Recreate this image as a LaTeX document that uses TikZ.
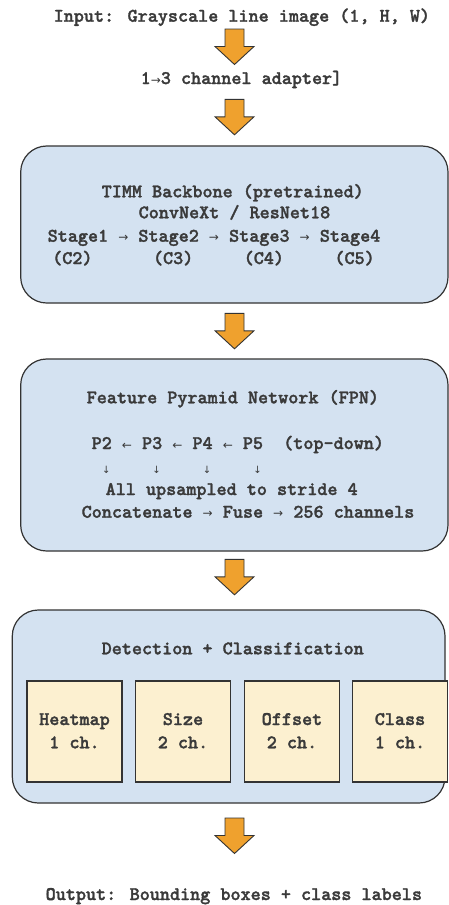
\documentclass[tikz,border=0pt]{standalone}
\usepackage{fontspec}
\newfontfamily\arrowfont{DejaVu Sans}
\newfontfamily\codefont{lmmonolt10-bold}[Extension=.otf, FakeBold=1.6]
\definecolor{panelblue}{HTML}{D4E2F1}
\definecolor{headfill}{HTML}{FCF0D0}
\definecolor{arrowfill}{HTML}{EFA12E}
\definecolor{ink}{HTML}{3A3A3A}
\definecolor{edgegray}{HTML}{333333}
% thin arrow glyphs, each one character cell wide
\newcommand\rarr{\makebox[10.08pt]{\arrowfont\fontsize{12}{14}\selectfont →}}
\newcommand\larr{\makebox[10.08pt]{\arrowfont\fontsize{12}{14}\selectfont ←}}
\newcommand\darr{\makebox[10.08pt]{\arrowfont\fontsize{10}{12}\selectfont ↓}}
\tikzset{
  flowarrow/.pic={
    \draw[draw=edgegray, fill=arrowfill, line width=0.9pt, line join=miter]
      (-9.5,0) -- (9.5,0) -- (9.5,17.5) -- (19.5,17.5) -- (0,35.5)
      -- (-19.5,17.5) -- (-9.5,17.5) -- cycle;
  }
}
\begin{document}
\begin{tikzpicture}[x=1pt, y=-1pt,
  panel/.style={draw=edgegray, fill=panelblue, line width=1.2pt, rounded corners=26pt,
    inner sep=0pt},
  headbox/.style={draw=edgegray, fill=headfill, line width=1.2pt, inner sep=0pt,
    minimum width=95pt, minimum height=101pt},
  label/.style={anchor=base west, inner sep=0pt, text=ink,
    font=\codefont\fontsize{19.2}{22}\selectfont},
  clabel/.style={label, anchor=base}]
\useasboundingbox (0,0) rectangle (449,905);

% stage panels
\node[panel, minimum width=427.3pt, minimum height=157pt] (backbone) at (234.35,224.5) {};
\node[panel, minimum width=427.3pt, minimum height=192pt] (fpn) at (234.35,455) {};
\node[panel, minimum width=432.7pt, minimum height=193pt] (det) at (228.65,706.5) {};

% output heads
\node[headbox] (heat) at (74.5,731.5) {};
\node[headbox] (size) at (183,731.5) {};
\node[headbox] (offset) at (292,731.5) {};
\node[headbox] (cls) at (400,731.5) {};

% text lines
\node[label] (input) at (53.5,21.7) {Input: Grayscale line image (1, H, W)};
\node[label] (adapter) at (140.5,84) {1\rarr3 channel adapter]};

\node[label] (bbtitle) at (101.5,197.3) {TIMM Backbone (pretrained)};
\node[label] (bbname) at (138.5,218.3) {ConvNeXt / ResNet18};
\node[label] (stages) at (47.5,241.7) {Stage1 \rarr{} Stage2 \rarr{} Stage3 \rarr{} Stage4};
\node[label] (clevels) at (52,264) {(C2)~~~~~~(C3)~~~~~(C4)~~~~~(C5)};

\node[label] (fpntitle) at (86.5,403.3) {Feature Pyramid Network (FPN)};
\node[label] (plevels) at (91.5,449) {P2 \larr{} P3 \larr{} P4 \larr{} P5~~(top-down)};
\node[label] (pdown) at (101,473) {\darr~~~~\darr~~~~\darr~~~~\darr};
\node[label] (upsample) at (105.5,495) {All upsampled to stride 4};
\node[label] (fuse) at (81.5,517.7) {Concatenate \rarr{} Fuse \rarr{} 256 channels};

\node[label] (dettitle) at (101.5,654.3) {Detection + Classification};
\node[clabel] at (heat.center |- 0,725) {Heatmap};
\node[clabel] at (heat.center |- 0,748.3) {1 ch.};
\node[clabel] at (size.center |- 0,725) {Size};
\node[clabel] at (size.center |- 0,748.3) {2 ch.};
\node[clabel] at (offset.center |- 0,725) {Offset};
\node[clabel] at (offset.center |- 0,748.3) {2 ch.};
\node[clabel] at (cls.center |- 0,725) {Class};
\node[clabel] at (cls.center |- 0,748.3) {1 ch.};

\node[label] (output) at (45.5,900) {Output: Bounding boxes + class labels};

% flow arrows
\pic at (234.5,29) {flowarrow};
\pic at (234.5,99.3) {flowarrow};
\pic at (234.5,313.3) {flowarrow};
\pic at (234.5,559.3) {flowarrow};
\pic at (234.5,818) {flowarrow};
\end{tikzpicture}
\end{document}
